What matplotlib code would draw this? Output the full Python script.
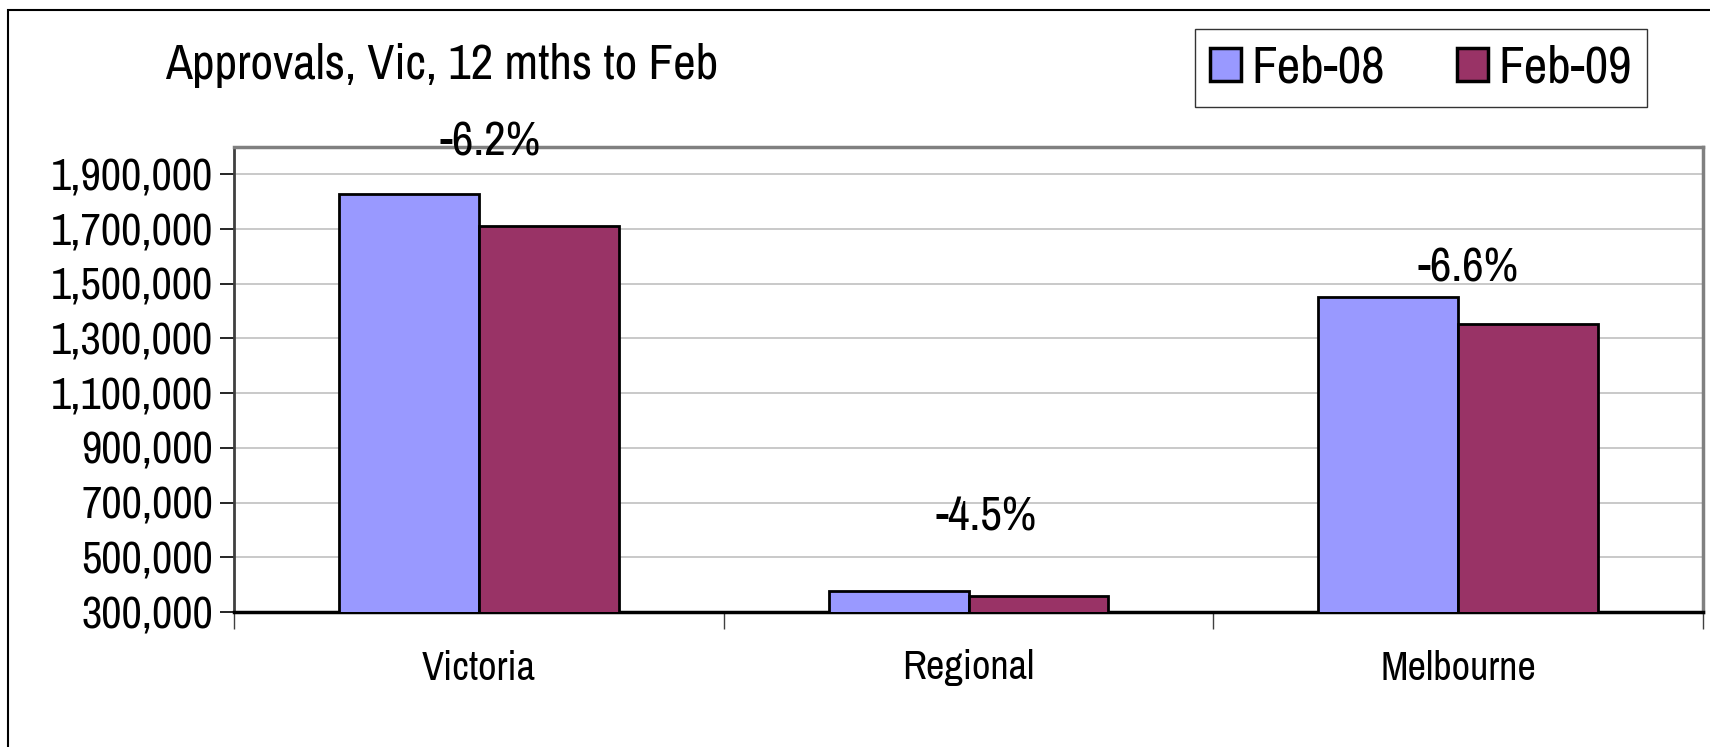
import matplotlib
matplotlib.use("Agg")
import matplotlib.pyplot as plt
from matplotlib.patches import Rectangle
from matplotlib.ticker import FuncFormatter
import numpy as np

plt.rcParams['font.family'] = ['Liberation Sans Narrow', 'Archivo Narrow', 'DejaVu Sans']

regions = ["Victoria", "Regional", "Melbourne"]
series_names = ["Feb-08", "Feb-09"]
feb08 = [1827000, 377000, 1450000]
feb09 = [1713000, 360000, 1354000]
yticks = [300000, 500000, 700000, 900000, 1100000, 1300000, 1500000, 1700000, 1900000]

col08 = "#9999FF"
col09 = "#993366"
# label offsets in points from top of the Feb-08 bar (hand placed in the original)
lbl_off = [(8, 38), (13, 53), (7, 21)]

fig = plt.figure(figsize=(17.1, 7.47), dpi=100)
ax = fig.add_axes([234/1710, 1 - 612/747, (1703-234)/1710, (612-147)/747])

# outer chart border, clipped right and bottom like the original
fig.patches.append(Rectangle((8/1710, -0.5), 2, 1.5 - 10/747, transform=fig.transFigure,
                             fill=False, edgecolor="black", linewidth=1.5))

x = np.arange(len(regions))
w = 1 / 3.5
ax.bar(x - w/2, feb08, w, bottom=0, color=col08, edgecolor="black", linewidth=2, label=series_names[0], zorder=3)
ax.bar(x + w/2, feb09, w, bottom=0, color=col09, edgecolor="black", linewidth=2, label=series_names[1], zorder=3)

ax.set_ylim(300000, 2000000)
ax.set_xlim(-0.5, 2.5)
ax.set_yticks(yticks)
ax.yaxis.set_major_formatter(FuncFormatter(lambda v, p: f"{int(v):,}"))
ax.grid(axis="y", color="#C0C0C0", linewidth=1.2, zorder=0)
ax.tick_params(axis="y", direction="out", length=10, width=1.2, pad=5, labelsize=32)

ax.set_xticks([-0.5, 0.5, 1.5, 2.5])
ax.set_xticklabels([])
ax.set_xticks(x, minor=True)
ax.set_xticklabels(regions, minor=True)
ax.tick_params(axis="x", which="major", direction="out", length=12, width=1, color="#404040")
ax.tick_params(axis="x", which="minor", length=0, pad=27, labelsize=29)

for s in ["top", "right"]:
    ax.spines[s].set_color("#808080")
    ax.spines[s].set_linewidth(2.5)
ax.spines["left"].set_color("#404040")
ax.spines["left"].set_linewidth(2)
ax.spines["bottom"].set_color("black")
ax.spines["bottom"].set_linewidth(2.5)

for i in range(len(regions)):
    pct = (feb09[i] - feb08[i]) / feb08[i] * 100
    ax.annotate(f"{pct:.1f}%", xy=(x[i], feb08[i]), xytext=lbl_off[i], textcoords="offset points",
                ha="center", va="center", fontsize=34)

fig.text(165/1710, 1 - 66/747, "Approvals, Vic, 12 mths to Feb", fontsize=35.5, ha="left", va="center")

leg = fig.legend(loc="upper left", bbox_to_anchor=(1195/1710, 1 - 29/747), ncol=2, fontsize=37,
                 frameon=True, fancybox=False, edgecolor="black", handlelength=0.6, handleheight=0.6,
                 handletextpad=0.2, columnspacing=1.4, borderpad=0.3, borderaxespad=0)
leg.get_frame().set_linewidth(1)
for p in leg.get_patches():
    p.set_linewidth(2.5)

fig.savefig("out.png", dpi=100)
